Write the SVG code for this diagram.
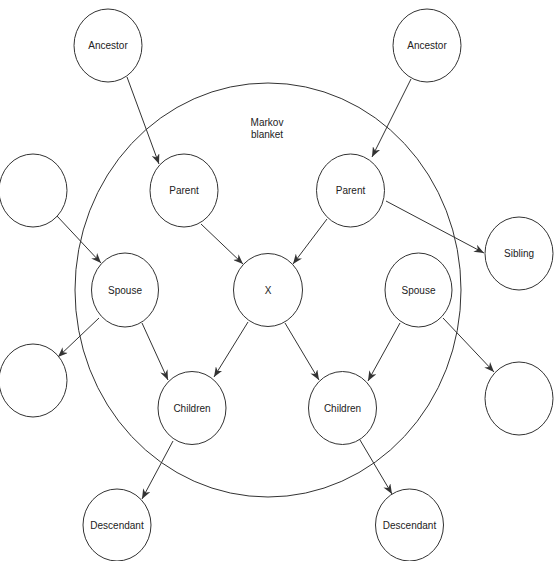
<svg xmlns="http://www.w3.org/2000/svg" width="555" height="561" viewBox="0 0 555 561">
<style>
.node ellipse{fill:#fff;stroke:#333;stroke-width:1}
.node text,.label{font-family:"Liberation Sans",Arial,sans-serif;font-size:10px;fill:#222;text-anchor:middle}
.edges line{stroke:#333;stroke-width:1;marker-end:url(#arr)}
</style>
<defs>
<marker id="arr" markerUnits="userSpaceOnUse" markerWidth="10" markerHeight="8" refX="10" refY="4" orient="auto">
<path d="M0,0 L10,4 L0,8 L3,4 z" fill="#333"/>
</marker>
</defs>
<rect width="555" height="561" fill="#fff"/>
<g id="blanket">
<ellipse cx="268" cy="290" rx="193" ry="207" fill="none" stroke="#333" stroke-width="1"/>
<text class="label" x="267" y="125.5">Markov</text>
<text class="label" x="267" y="137.5">blanket</text>
</g>
<g class="edges" id="connectors">
<line x1="127" y1="77" x2="159" y2="164"/>
<line x1="57" y1="216" x2="101" y2="263"/>
<line x1="201" y1="224" x2="243" y2="264"/>
<line x1="411" y1="79" x2="372" y2="157"/>
<line x1="327" y1="219" x2="293" y2="264"/>
<line x1="386" y1="201" x2="484" y2="253"/>
<line x1="99" y1="318" x2="58" y2="357"/>
<line x1="142" y1="323" x2="168" y2="380"/>
<line x1="248" y1="322" x2="214" y2="377"/>
<line x1="285" y1="323" x2="319" y2="380"/>
<line x1="400" y1="323" x2="368" y2="381"/>
<line x1="443" y1="318" x2="494" y2="372"/>
<line x1="173" y1="441" x2="142" y2="499"/>
<line x1="360" y1="440" x2="392" y2="494"/>
</g>
<g class="node" id="ancestor-left"><ellipse cx="108" cy="45.5" rx="34" ry="36.5"/><text x="108" y="49">Ancestor</text></g>
<g class="node" id="ancestor-right"><ellipse cx="427" cy="45.5" rx="34" ry="36.5"/><text x="427" y="49">Ancestor</text></g>
<g class="node" id="parent-left"><ellipse cx="184" cy="190.5" rx="34" ry="36.5"/><text x="184" y="194">Parent</text></g>
<g class="node" id="parent-right"><ellipse cx="350.5" cy="190.5" rx="34" ry="36.5"/><text x="350.5" y="194">Parent</text></g>
<g class="node" id="empty-top-left"><ellipse cx="33" cy="190.5" rx="34" ry="36.5"/></g>
<g class="node" id="sibling"><ellipse cx="519" cy="253.5" rx="34" ry="36.5"/><text x="519" y="257">Sibling</text></g>
<g class="node" id="spouse-left"><ellipse cx="125" cy="290" rx="33.5" ry="37"/><text x="125" y="293.5">Spouse</text></g>
<g class="node" id="x"><ellipse cx="268" cy="290" rx="34.5" ry="36.5"/><text x="268" y="293.5">X</text></g>
<g class="node" id="spouse-right"><ellipse cx="418.5" cy="290" rx="33.5" ry="37"/><text x="418.5" y="293.5">Spouse</text></g>
<g class="node" id="empty-bottom-left"><ellipse cx="33" cy="380.5" rx="34" ry="36.5"/></g>
<g class="node" id="empty-bottom-right"><ellipse cx="519" cy="398.5" rx="34" ry="36.5"/></g>
<g class="node" id="children-left"><ellipse cx="192" cy="408" rx="34" ry="36.5"/><text x="192" y="411.5">Children</text></g>
<g class="node" id="children-right"><ellipse cx="342.5" cy="408" rx="34" ry="36.5"/><text x="342.5" y="411.5">Children</text></g>
<g class="node" id="descendant-left"><ellipse cx="117" cy="525" rx="34" ry="36"/><text x="117" y="528.5">Descendant</text></g>
<g class="node" id="descendant-right"><ellipse cx="409.5" cy="525" rx="34" ry="36"/><text x="409.5" y="528.5">Descendant</text></g>
</svg>
